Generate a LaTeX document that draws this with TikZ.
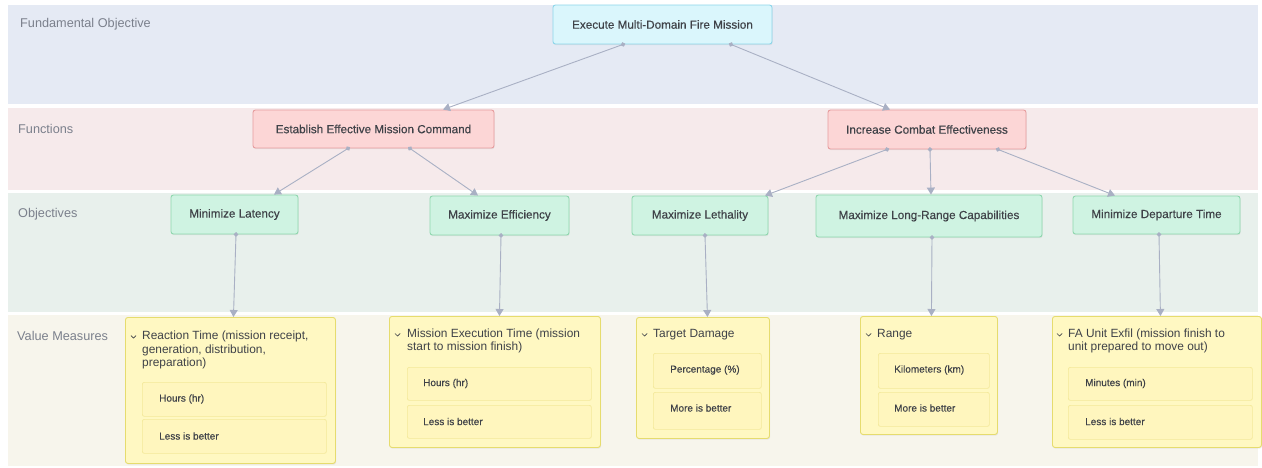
\documentclass[tikz,border=0pt]{standalone}
\usepackage{fontspec}
\setmainfont{Liberation Sans}
\newfontfamily\medfont{Liberation Sans}[FakeBold=0.35]
\usepackage{xcolor}
\usepackage{tikz}
\usetikzlibrary{arrows.meta,shadows}

\definecolor{fundfill}{HTML}{DAF6FC}
\definecolor{fundline}{HTML}{8CD6EA}
\definecolor{funcfill}{HTML}{FCD6D6}
\definecolor{funcline}{HTML}{E69C9E}
\definecolor{objfill}{HTML}{CFF3E2}
\definecolor{objline}{HTML}{8FD7AE}
\definecolor{vmfill}{HTML}{FFF8C2}
\definecolor{vmline}{HTML}{E6DC6E}
\definecolor{subfill}{HTML}{FFF6BE}
\definecolor{subline}{HTML}{F3E99A}
\definecolor{fundlane}{HTML}{E5EAF4}
\definecolor{funclane}{HTML}{F6EAEB}
\definecolor{objlane}{HTML}{E8F0EC}
\definecolor{vmlane}{HTML}{F7F5EC}
\definecolor{boxtext}{HTML}{3F4248}
\definecolor{lanetext}{HTML}{7B808C}
\definecolor{linkgrey}{HTML}{A9B0C4}

\tikzset{>=stealth,
  box/.style={rounded corners=2.5pt, line width=0.9pt, text=boxtext,
    font=\medfont\fontsize{11.7}{13}\selectfont, inner sep=0pt,
    drop shadow={opacity=0.12, shadow xshift=0.6pt, shadow yshift=-1.2pt}},
  fundbox/.style={box, fill=fundfill, draw=fundline},
  funcbox/.style={box, fill=funcfill, draw=funcline},
  objbox/.style={box, fill=objfill, draw=objline},
  vmbox/.style={box, fill=vmfill, draw=vmline, anchor=north west},
  subbox/.style={rounded corners=2pt, fill=subfill, draw=subline, line width=0.7pt,
    anchor=north west, inner sep=0pt},
  vmhead/.style={anchor=west, align=left, inner sep=0pt, text=boxtext,
    font=\fontsize{11.9}{13.6}\selectfont},
  subtext/.style={anchor=west, inner sep=0pt, text=boxtext, font=\medfont\fontsize{10}{12}\selectfont},
  lanelabel/.style={anchor=west, inner sep=0pt, text=lanetext, font=\fontsize{12.7}{14}\selectfont},
  chevron/.style={draw=boxtext, line width=0.7pt, line cap=round, line join=round},
  link/.style={draw=linkgrey, line width=0.9pt,
    {Circle[length=4.5pt]}-{Triangle[length=7pt,width=8pt]}, shorten <=-2.25pt}
}

\begin{document}
\begin{tikzpicture}[x=1pt,y=-1pt]
  \useasboundingbox (0,0) rectangle (1262,467);
  \fill[white] (0,0) rectangle (1262,467);

  % lanes
  \fill[fundlane] (8,5) rectangle (1258,104);
  \fill[funclane] (8,108) rectangle (1258,190);
  \fill[objlane] (8,193) rectangle (1258,312);
  \fill[vmlane] (8,315) rectangle (1258,466);
  \node[lanelabel] (lfund) at (20,24) {Fundamental Objective};
  \node[lanelabel] (lfunc) at (18,129) {Functions};
  \node[lanelabel] (lobj) at (18,214) {Objectives};
  \node[lanelabel] (lvm) at (17,336) {Value Measures};

  % top objective and functions
  \node[fundbox, minimum width=219, minimum height=39] (execute) at (662.5,24.5) {Execute Multi-Domain Fire Mission};
  \node[funcbox, minimum width=241, minimum height=38] (establish) at (373.5,129) {Establish Effective Mission Command};
  \node[funcbox, minimum width=198, minimum height=39] (increase) at (927,129.5) {Increase Combat Effectiveness};

  % objectives
  \node[objbox, minimum width=127, minimum height=39] (latency) at (234.5,214.5) {Minimize Latency};
  \node[objbox, minimum width=139, minimum height=39] (efficiency) at (499.5,215.5) {Maximize Efficiency};
  \node[objbox, minimum width=136, minimum height=39] (lethality) at (700,215.5) {Maximize Lethality};
  \node[objbox, minimum width=226, minimum height=42] (longrange) at (929,216) {Maximize Long-Range Capabilities};
  \node[objbox, minimum width=167, minimum height=38] (departure) at (1156.5,215) {Minimize Departure Time};

  % value measures
  \node[vmbox, minimum width=210, minimum height=146] (vma) at (125,317) {};
  \draw[chevron] (131,335.5) -- (133.5,338) -- (136,335.5);
  \node[vmhead] (vmahead) at (142,350) {Reaction Time (mission receipt,\\generation, distribution,\\preparation)};
  \node[subbox, minimum width=184, minimum height=34] (vmaunit) at (142,382) {};
  \node[subtext] (vmaunittext) at (159,399) {Hours (hr)};
  \node[subbox, minimum width=184, minimum height=34] (vmapref) at (142,419) {};
  \node[subtext] (vmapreftext) at (159,436) {Less is better};

  \node[vmbox, minimum width=211, minimum height=131] (vmb) at (389,316) {};
  \draw[chevron] (395,333.5) -- (397.5,336) -- (400,333.5);
  \node[vmhead] (vmbhead) at (407,341) {Mission Execution Time (mission\\start to mission finish)};
  \node[subbox, minimum width=184, minimum height=33] (vmbunit) at (407,367) {};
  \node[subtext] (vmbunittext) at (423,383.5) {Hours (hr)};
  \node[subbox, minimum width=184, minimum height=33] (vmbpref) at (407,405) {};
  \node[subtext] (vmbpreftext) at (423,421.5) {Less is better};

  \node[vmbox, minimum width=133, minimum height=121] (vmc) at (636,317) {};
  \draw[chevron] (642,333.5) -- (644.5,336) -- (647,333.5);
  \node[vmhead] (vmchead) at (653,335) {Target Damage};
  \node[subbox, minimum width=108, minimum height=35] (vmcunit) at (653,353) {};
  \node[subtext] (vmcunittext) at (670,370) {Percentage (\%)};
  \node[subbox, minimum width=108, minimum height=37] (vmcpref) at (653,392) {};
  \node[subtext] (vmcpreftext) at (670,408) {More is better};

  \node[vmbox, minimum width=137, minimum height=118] (vmd) at (860,316) {};
  \draw[chevron] (866,333.5) -- (868.5,336) -- (871,333.5);
  \node[vmhead] (vmdhead) at (877,335) {Range};
  \node[subbox, minimum width=111, minimum height=35] (vmdunit) at (878,353) {};
  \node[subtext] (vmdunittext) at (894,370) {Kilometers (km)};
  \node[subbox, minimum width=111, minimum height=34] (vmdpref) at (878,392) {};
  \node[subtext] (vmdpreftext) at (894,408) {More is better};

  \node[vmbox, minimum width=209, minimum height=131] (vme) at (1052,316) {};
  \draw[chevron] (1057,333.5) -- (1059.5,336) -- (1062,333.5);
  \node[vmhead] (vmehead) at (1068,341) {FA Unit Exfil (mission finish to\\unit prepared to move out)};
  \node[subbox, minimum width=184, minimum height=33] (vmeunit) at (1068,367) {};
  \node[subtext] (vmeunittext) at (1085,383.5) {Minutes (min)};
  \node[subbox, minimum width=184, minimum height=34] (vmepref) at (1068,405) {};
  \node[subtext] (vmepreftext) at (1085,421.5) {Less is better};

  % connectors
  \draw[link] ([xshift=-39.5]execute.south) -- ([xshift=69.5]establish.north);
  \draw[link] ([xshift=68.5]execute.south) -- ([xshift=-37]increase.north);
  \draw[link] ([xshift=-25.5]establish.south) -- ([xshift=39.5]latency.north);
  \draw[link] ([xshift=36.5]establish.south) -- ([xshift=-21.5]efficiency.north);
  \draw[link] ([xshift=-40]increase.south) -- ([xshift=65]lethality.north);
  \draw[link] ([xshift=3]increase.south) -- ([xshift=2]longrange.north);
  \draw[link] ([xshift=71]increase.south) -- ([xshift=-41.5]departure.north);
  \draw[link] ([xshift=1.5]latency.south) -- ([xshift=3]vma.north);
  \draw[link] ([xshift=1.5]efficiency.south) -- ([xshift=4.5]vmb.north);
  \draw[link] ([xshift=5]lethality.south) -- ([xshift=4.5]vmc.north);
  \draw[link] ([xshift=3]longrange.south) -- ([xshift=2.5]vmd.north);
  \draw[link] ([xshift=2.5]departure.south) -- ([xshift=3.5]vme.north);
\end{tikzpicture}
\end{document}
